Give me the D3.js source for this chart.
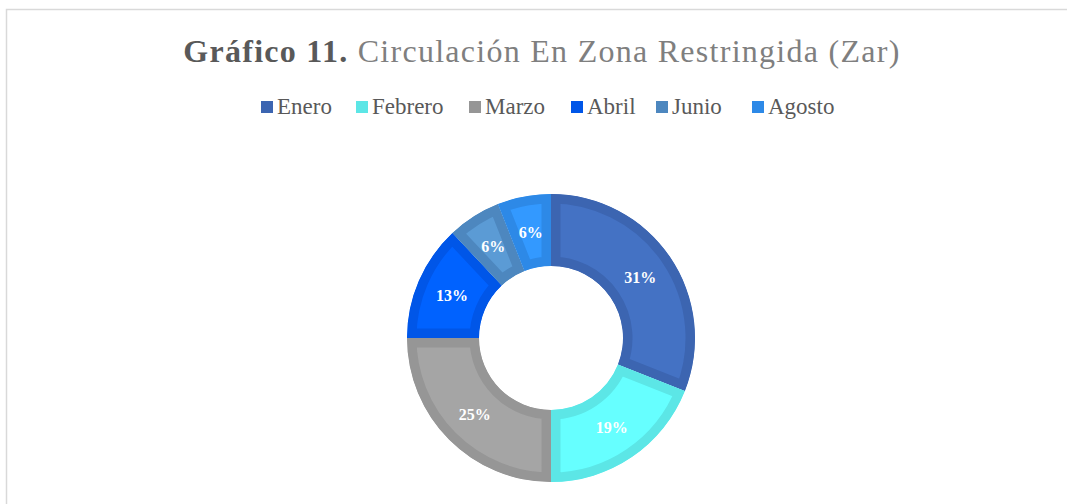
<!DOCTYPE html>
<html>
<head>
<meta charset="utf-8">
<script src="https://cdn.jsdelivr.net/npm/d3@7"></script>
<style>
  body { margin: 0; background: #fff; }
  svg { display: block; }
</style>
</head>
<body>
<div id="chart"></div>
<script>
// Data
var months = ["Enero", "Febrero", "Marzo", "Abril", "Junio", "Agosto"];
var shares = [31, 19, 25, 13, 6, 6];
var labels = ["31%", "19%", "25%", "13%", "6%", "6%"];
var darkColors = ["#3C65B1", "#5CE6E6", "#969696", "#0056E8", "#4D87BF", "#2D89E7"];
var lightColors = ["#4472C4", "#66FFFF", "#A5A5A5", "#0062FF", "#5B9BD5", "#3399FF"];

var svgWidth = 1067;
var svgHeight = 504;
var cx = 551, cy = 338;
var outerR = 144, innerR = 72;
var band = 9.5;
var serif = "'Liberation Serif', 'Times New Roman', serif";

var svg = d3.select("#chart")
    .append("svg")
    .attr("width", svgWidth)
    .attr("height", svgHeight);

// chart frame
svg.append("rect")
    .attr("x", 6.5)
    .attr("y", 9.5)
    .attr("width", 1080)
    .attr("height", 520)
    .attr("fill", "none")
    .attr("stroke", "#d9d9d9")
    .attr("stroke-width", 1.5);

// Title
var title = svg.append("text")
    .attr("x", 542)
    .attr("y", 62)
    .attr("text-anchor", "middle")
    .style("font-family", serif)
    .style("font-size", "32px");
title.append("tspan").attr("font-weight", "bold").attr("fill", "#595959").text("Gráfico 11.");
title.append("tspan").attr("fill", "#7f7f7f").text(" Circulación En Zona Restringida (Zar)");

// spread letters a little so the title spans the same width as the original
var tw = title.node().getComputedTextLength();
var nChars = title.text().length;
var ls = (716 - tw) / (nChars - 1);
if (ls < 0) {
    title.attr("transform", "translate(542,62) scale(" + (716 / tw) + ",1) translate(-542,-62)");
} else {
    title.style("letter-spacing", ls + "px");
}

// Legend
var legendX = [261, 356, 469, 571, 656, 752];
var legend = svg.append("g");
months.forEach(function (m, i) {
    var g = legend.append("g").attr("transform", "translate(" + legendX[i] + ",0)");
    g.append("rect")
        .attr("x", 0)
        .attr("y", 101)
        .attr("width", 12)
        .attr("height", 12)
        .attr("fill", darkColors[i]);
    g.append("text")
        .attr("x", 16)
        .attr("y", 114)
        .attr("fill", "#595959")
        .style("font-family", serif)
        .style("font-size", "23px")
        .text(m);
});

// Donut
var pie = d3.pie().sort(null).value(function (d) { return d; });
var arc = d3.arc().innerRadius(innerR).outerRadius(outerR);
var arcs = pie(shares);

var defs = svg.append("defs");
var chart = svg.append("g").attr("transform", "translate(" + cx + "," + cy + ")");

arcs.forEach(function (a, i) {
    defs.append("clipPath")
        .attr("id", "clip" + i)
        .append("path")
        .attr("d", arc(a));
});

chart.selectAll("path.slice")
    .data(arcs)
    .enter()
    .append("path")
    .attr("class", "slice")
    .attr("d", arc)
    .attr("clip-path", function (d, i) { return "url(#clip" + i + ")"; })
    .attr("fill", function (d, i) { return lightColors[i]; })
    .attr("stroke", function (d, i) { return darkColors[i]; })
    .attr("stroke-width", band * 2)
    .attr("stroke-linejoin", "miter");

// Labels
chart.selectAll("text.lbl")
    .data(arcs)
    .enter()
    .append("text")
    .attr("class", "lbl")
    .attr("transform", function (d) { return "translate(" + arc.centroid(d) + ")"; })
    .attr("dy", "0.35em")
    .attr("text-anchor", "middle")
    .attr("fill", "#ffffff")
    .style("font-family", serif)
    .style("font-weight", "bold")
    .style("font-size", "16px")
    .text(function (d, i) { return labels[i]; });
</script>
</body>
</html>
